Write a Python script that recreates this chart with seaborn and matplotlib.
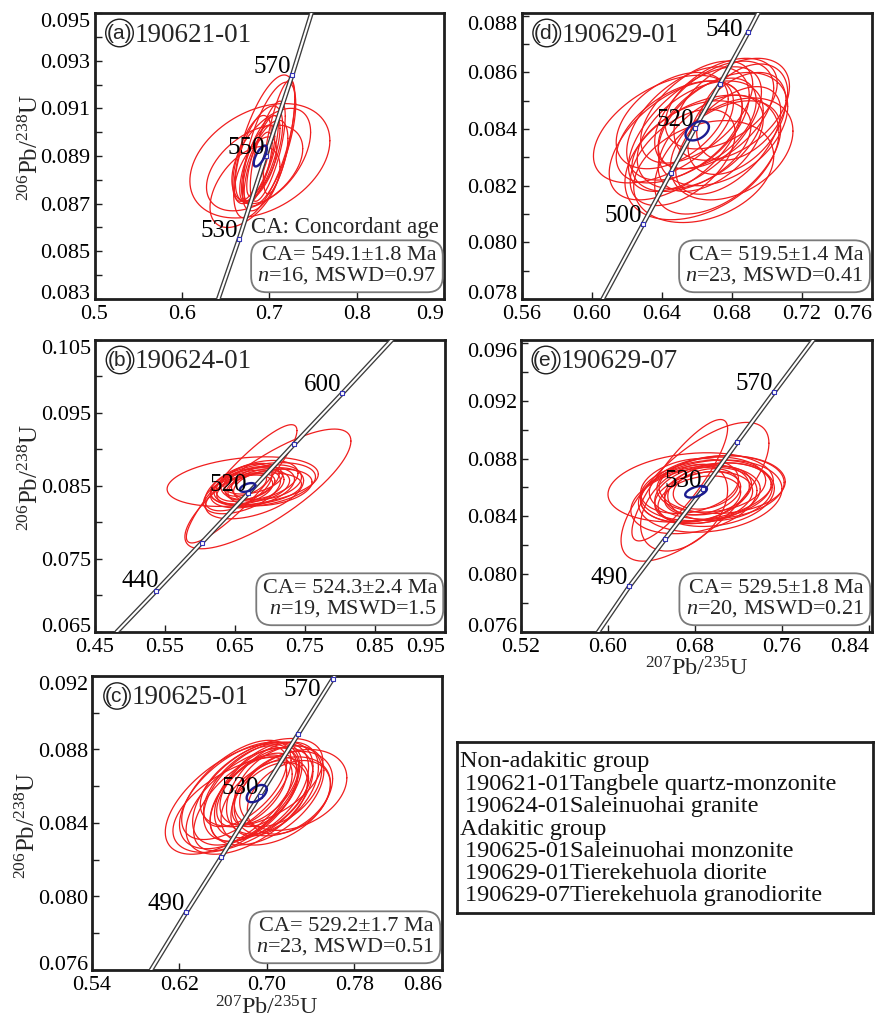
import numpy as np
import pandas as pd
import matplotlib
matplotlib.use("Agg")
import matplotlib.pyplot as plt
from matplotlib.ticker import MultipleLocator, FormatStrFormatter, FixedLocator
import seaborn as sns

# ------------------------------------------------------------------ data
# error ellipses: 207Pb/235U (x) with half-extent, 206Pb/238U (y) with half-extent, error correlation
# (a) 190621-01
A_X    = [0.689, 0.683, 0.672, 0.694, 0.711, 0.700, 0.688, 0.690, 0.686, 0.692, 0.684, 0.695, 0.680, 0.698, 0.687, 0.702]
A_XERR = [0.080, 0.055, 0.040, 0.035, 0.018, 0.030, 0.027, 0.022, 0.020, 0.018, 0.024, 0.026, 0.022, 0.020, 0.016, 0.045]
A_Y    = [0.0888, 0.0885, 0.0877, 0.0894, 0.0898, 0.0895, 0.0891, 0.0889, 0.0887, 0.0890, 0.0884, 0.0886, 0.0889, 0.0892, 0.0885, 0.0890]
A_YERR = [0.0024, 0.0018, 0.0017, 0.0030, 0.0024, 0.0026, 0.0020, 0.0018, 0.0016, 0.0017, 0.0014, 0.0019, 0.0018, 0.0021, 0.0015, 0.0020]
A_RHO  = [0.35, 0.45, 0.50, 0.65, 0.70, 0.65, 0.60, 0.70, 0.70, 0.75, 0.60, 0.60, 0.60, 0.70, 0.70, 0.50]
# (b) 190624-01
B_X    = [0.697, 0.6595, 0.661, 0.690, 0.675, 0.670, 0.680, 0.668, 0.664, 0.685, 0.672, 0.660, 0.695, 0.678, 0.665, 0.688, 0.655, 0.700, 0.676]
B_XERR = [0.1186, 0.079, 0.108, 0.075, 0.060, 0.050, 0.065, 0.045, 0.040, 0.055, 0.035, 0.055, 0.050, 0.070, 0.030, 0.040, 0.048, 0.060, 0.042]
B_Y    = [0.0846, 0.0853, 0.0856, 0.0852, 0.0848, 0.0850, 0.0846, 0.0855, 0.0845, 0.0858, 0.0849, 0.0842, 0.0855, 0.0840, 0.0852, 0.0850, 0.0848, 0.0848, 0.0858]
B_YERR = [0.0082, 0.0081, 0.0034, 0.0030, 0.0028, 0.0025, 0.0022, 0.0026, 0.0020, 0.0027, 0.0018, 0.0030, 0.0024, 0.0035, 0.0016, 0.0021, 0.0032, 0.0025, 0.0019]
B_RHO  = [0.80, 0.90, 0.30, 0.35, 0.40, 0.35, 0.30, 0.45, 0.40, 0.35, 0.45, 0.50, 0.30, 0.50, 0.45, 0.35, 0.55, 0.30, 0.40]
# (c) 190625-01
C_X    = [0.667, 0.724, 0.675, 0.682, 0.690, 0.697, 0.705, 0.688, 0.700, 0.678, 0.710, 0.693, 0.684, 0.715, 0.672, 0.702, 0.695, 0.686, 0.708, 0.680, 0.698, 0.720, 0.676]
C_XERR = [0.060, 0.049, 0.055, 0.050, 0.048, 0.045, 0.042, 0.040, 0.052, 0.045, 0.040, 0.036, 0.058, 0.045, 0.050, 0.035, 0.056, 0.032, 0.050, 0.038, 0.030, 0.038, 0.062]
C_Y    = [0.0853, 0.0858, 0.0855, 0.0856, 0.0857, 0.0858, 0.0859, 0.0854, 0.0855, 0.0851, 0.0860, 0.0860, 0.0852, 0.0856, 0.0858, 0.0853, 0.0862, 0.0857, 0.0852, 0.0860, 0.0856, 0.0854, 0.0850]
C_YERR = [0.0030, 0.0022, 0.0029, 0.0028, 0.0027, 0.0026, 0.0025, 0.0024, 0.0027, 0.0026, 0.0022, 0.0021, 0.0029, 0.0023, 0.0027, 0.0020, 0.0024, 0.0019, 0.0024, 0.0022, 0.0018, 0.0020, 0.0026]
C_RHO  = [0.60, 0.30, 0.55, 0.55, 0.50, 0.50, 0.45, 0.55, 0.50, 0.60, 0.40, 0.50, 0.55, 0.35, 0.60, 0.45, 0.50, 0.55, 0.40, 0.60, 0.50, 0.35, 0.55]
# (d) 190629-01
D_X    = [0.641, 0.680, 0.648, 0.655, 0.662, 0.670, 0.675, 0.660, 0.668, 0.664, 0.652, 0.678, 0.683, 0.657, 0.672, 0.646, 0.686, 0.666, 0.659, 0.674, 0.650, 0.680, 0.663]
D_XERR = [0.040, 0.033, 0.038, 0.035, 0.036, 0.034, 0.037, 0.032, 0.030, 0.040, 0.030, 0.030, 0.028, 0.034, 0.036, 0.032, 0.026, 0.028, 0.038, 0.032, 0.036, 0.035, 0.044]
D_Y    = [0.0840, 0.0847, 0.0836, 0.0842, 0.0838, 0.0845, 0.0840, 0.0846, 0.0835, 0.0825, 0.0830, 0.0836, 0.0842, 0.0834, 0.0830, 0.0843, 0.0846, 0.0842, 0.0840, 0.0849, 0.0839, 0.0833, 0.0830]
D_YERR = [0.0019, 0.0018, 0.0021, 0.0020, 0.0019, 0.0019, 0.0020, 0.0018, 0.0017, 0.0018, 0.0017, 0.0019, 0.0018, 0.0016, 0.0020, 0.0017, 0.0017, 0.0016, 0.0022, 0.0016, 0.0018, 0.0018, 0.0022]
D_RHO  = [0.50, 0.45, 0.55, 0.50, 0.45, 0.50, 0.40, 0.55, 0.50, 0.30, 0.50, 0.55, 0.45, 0.45, 0.50, 0.45, 0.40, 0.50, 0.60, 0.45, 0.50, 0.35, 0.40]
# (e) 190629-07
E_X    = [0.680, 0.666, 0.676, 0.700, 0.690, 0.685, 0.695, 0.688, 0.680, 0.698, 0.692, 0.684, 0.703, 0.675, 0.687, 0.694, 0.679, 0.705, 0.670, 0.690]
E_XERR = [0.068, 0.044, 0.076, 0.062, 0.060, 0.055, 0.050, 0.045, 0.050, 0.055, 0.040, 0.038, 0.048, 0.045, 0.035, 0.066, 0.058, 0.058, 0.040, 0.030]
E_Y    = [0.0857, 0.0865, 0.0860, 0.0860, 0.0858, 0.0855, 0.0862, 0.0853, 0.0856, 0.0855, 0.0858, 0.0852, 0.0857, 0.0861, 0.0856, 0.0854, 0.0851, 0.0862, 0.0846, 0.0859]
E_YERR = [0.0048, 0.0042, 0.0024, 0.0022, 0.0021, 0.0020, 0.0019, 0.0018, 0.0020, 0.0022, 0.0017, 0.0016, 0.0020, 0.0019, 0.0015, 0.0025, 0.0023, 0.0020, 0.0030, 0.0014]
E_RHO  = [0.70, 0.85, 0.20, 0.15, 0.20, 0.20, 0.15, 0.25, 0.25, 0.20, 0.25, 0.30, 0.15, 0.25, 0.30, 0.20, 0.30, 0.10, 0.40, 0.25]

# concordant-age ellipses (a, b, c, d, e)
CA_X    = [0.6895, 0.668, 0.6906, 0.6603, 0.681]
CA_XERR = [0.0075, 0.011, 0.0092, 0.0067, 0.010]
CA_Y    = [0.0890, 0.0848, 0.0856, 0.08394, 0.0857]
CA_YERR = [0.00044, 0.0006, 0.00047, 0.00034, 0.0004]
CA_RHO  = [0.70, 0.50, 0.50, 0.40, 0.50]

# concordia age ticks (Ma) and their positions as drawn
A_AGES = [530, 550, 570];            A_AGE_X = [0.665, 0.6955, 0.726];                  A_AGE_Y = [0.0855, 0.0890, 0.0924]
B_AGES = [440, 480, 520, 560, 600];  B_AGE_X = [0.537, 0.6024, 0.669, 0.7343, 0.8033];  B_AGE_Y = [0.0706, 0.07723, 0.0840, 0.09071, 0.0977]
C_AGES = [490, 510, 530, 550, 570];  C_AGE_X = [0.6261, 0.6581, 0.6932, 0.7283, 0.7599]; C_AGE_Y = [0.07913, 0.08213, 0.08548, 0.08882, 0.09182]
D_AGES = [500, 510, 520, 530, 540];  D_AGE_X = [0.6295, 0.6451, 0.6590, 0.6733, 0.6895]; D_AGE_Y = [0.08066, 0.08245, 0.08404, 0.08559, 0.08742]
E_AGES = [490, 510, 530, 550, 570];  E_AGE_X = [0.6196, 0.6524, 0.6876, 0.7189, 0.7526]; E_AGE_Y = [0.07915, 0.08242, 0.08587, 0.08913, 0.09257]
# concordia curve end points at the frame edges
A_END_X = [0.6415, 0.748];  A_END_Y = [0.083, 0.095]
B_END_X = [0.481, 0.874];   B_END_Y = [0.065, 0.105]
C_END_X = [0.594, 0.7618];  C_END_Y = [0.076, 0.092]
D_END_X = [0.6063, 0.6952]; D_END_Y = [0.078, 0.0881]
E_END_X = [0.591, 0.7888];  E_END_Y = [0.076, 0.0962]
# labelled ages
A_LABELLED = [530, 550, 570]
B_LABELLED = [440, 520, 600]
C_LABELLED = [490, 530, 570]
D_LABELLED = [500, 520, 540]
E_LABELLED = [490, 530, 570]

PANEL_LETTERS = ["a", "b", "c", "d", "e"]
SAMPLE_IDS = ["190621-01", "190624-01", "190625-01", "190629-01", "190629-07"]
CA_AGE = ["549.1", "524.3", "529.2", "519.5", "529.5"]
CA_ERR = ["1.8", "2.4", "1.7", "1.4", "1.8"]
N_SPOTS = [16, 19, 23, 23, 20]
MSWD = ["0.97", "1.5", "0.51", "0.41", "0.21"]

LEGEND_GROUPS = ["Non-adakitic group", "Adakitic group"]
LEGEND_NAMES = ["Tangbele quartz-monzonite", "Saleinuohai granite",
                "Saleinuohai monzonite", "Tierekehuola diorite", "Tierekehuola granodiorite"]

# ------------------------------------------------------------------ style
sns.set_theme(style="white")
plt.rcParams["font.family"] = ["Liberation Serif", "DejaVu Serif"]
plt.rcParams["mathtext.fontset"] = "custom"
plt.rcParams["mathtext.rm"] = "Liberation Serif"
plt.rcParams["mathtext.it"] = "Liberation Serif:italic"
plt.rcParams["mathtext.bf"] = "Liberation Serif:bold"

RED = "#f01e1e"
BLUE = "#1c1c90"
MARK = "#3535b5"
FRAME = "#1e1e1e"

W, H = 877, 1021
def rect(l, r, t, b):
    return [l / W, 1 - b / H, (r - l) / W, (b - t) / H]

ell = {
    "a": (A_X, A_XERR, A_Y, A_YERR, A_RHO),
    "b": (B_X, B_XERR, B_Y, B_YERR, B_RHO),
    "c": (C_X, C_XERR, C_Y, C_YERR, C_RHO),
    "d": (D_X, D_XERR, D_Y, D_YERR, D_RHO),
    "e": (E_X, E_XERR, E_Y, E_YERR, E_RHO),
}
conc = {
    "a": (A_AGES, A_AGE_X, A_AGE_Y, A_END_X, A_END_Y, A_LABELLED),
    "b": (B_AGES, B_AGE_X, B_AGE_Y, B_END_X, B_END_Y, B_LABELLED),
    "c": (C_AGES, C_AGE_X, C_AGE_Y, C_END_X, C_END_Y, C_LABELLED),
    "d": (D_AGES, D_AGE_X, D_AGE_Y, D_END_X, D_END_Y, D_LABELLED),
    "e": (E_AGES, E_AGE_X, E_AGE_Y, E_END_X, E_END_Y, E_LABELLED),
}
# special placement (pixels) of a few age labels near the frame
LABEL_OFFSETS = {("c", 570): (-12, -17), ("d", 540): (-5, -4), ("b", 440): (3, 4)}

layout = {
    # rect, xlim, xticks, xfmt, ylim, yticks, yminor, ylabel coords, has xlabel, has ylabel
    "a": (rect(94.5, 444.5, 13, 299), (0.5, 0.9), np.round(np.arange(0.5, 0.91, 0.1), 3), "%.1f",
          (0.083, 0.095), np.round(np.arange(0.083, 0.0951, 0.002), 4), 0.001, (-0.148, 0.53), False, True),
    "b": (rect(95, 445, 340, 632), (0.45, 0.95), np.round(np.arange(0.45, 0.951, 0.1), 3), "%.2f",
          (0.065, 0.105), np.round(np.arange(0.065, 0.1051, 0.01), 4), 0.005, (-0.148, 0.53), False, True),
    "c": (rect(92, 442, 676, 970), (0.54, 0.86), np.round(np.arange(0.54, 0.861, 0.08), 3), "%.2f",
          (0.076, 0.092), np.round(np.arange(0.076, 0.0921, 0.004), 4), 0.002, (-0.148, 0.49), True, True),
    "d": (rect(521.7, 871.7, 13, 299), (0.56, 0.76), np.round(np.arange(0.56, 0.761, 0.04), 3), "%.2f",
          (0.078, 0.0881), np.round(np.arange(0.078, 0.0881, 0.002), 4), 0.001, None, False, False),
    "e": (rect(521, 872, 340, 632), (0.52, 0.8428), np.round(np.arange(0.52, 0.841, 0.08), 3), "%.2f",
          (0.076, 0.0962), np.round(np.arange(0.076, 0.0961, 0.004), 4), 0.002, None, True, False),
}

def ellipse_xy(cx, sx, cy, sy, rho, n=200):
    t = np.linspace(0, 2 * np.pi, n)
    x = cx + sx * np.cos(t)
    y = cy + sy * (rho * np.cos(t) + np.sqrt(1 - rho ** 2) * np.sin(t))
    return x, y

fig = plt.figure(figsize=(W / 100, H / 100), dpi=100)
fig.patch.set_facecolor("white")

XLAB = r"$^{207}$Pb$/^{235}$U"
YLAB = r"$^{206}$Pb$/^{238}$U"

for i, key in enumerate(PANEL_LETTERS):
    (rc, xlim, xt, xfmt, ylim, yt, ymin, ylc, has_xl, has_yl) = layout[key]
    ax = fig.add_axes(rc)
    ax.set_facecolor("white")

    # red ellipses
    xs, sxs, ys, sys_, rhos = ell[key]
    for cx, sx, cy, sy, r in zip(xs, sxs, ys, sys_, rhos):
        ex, ey = ellipse_xy(cx, sx, cy, sy, r)
        ax.plot(ex, ey, color=RED, lw=0.9, zorder=2)

    # concordia (double line)
    ages, axx, ayy, endx, endy, lab = conc[key]
    cdf = pd.DataFrame({"x": [endx[0]] + axx + [endx[1]], "y": [endy[0]] + ayy + [endy[1]]})
    sns.lineplot(data=cdf, x="x", y="y", sort=False, estimator=None, color="#3c3c3c", lw=3.4, ax=ax, zorder=3)
    sns.lineplot(data=cdf, x="x", y="y", sort=False, estimator=None, color="white", lw=1.5, ax=ax, zorder=3.1)
    mdf = pd.DataFrame({"x": axx, "y": ayy, "age": ages})
    sns.scatterplot(data=mdf, x="x", y="y", marker="s", s=10, facecolor="white", edgecolor=MARK,
                    linewidth=0.8, ax=ax, zorder=4)

    # concordant age ellipse
    ex, ey = ellipse_xy(CA_X[i], CA_XERR[i], CA_Y[i], CA_YERR[i], CA_RHO[i])
    ax.plot(ex, ey, color=BLUE, lw=1.7, zorder=5)

    # age labels
    for a, x, y in zip(ages, axx, ayy):
        if a in lab:
            off = LABEL_OFFSETS.get((key, a), (-1, 2))
            ax.annotate(str(a), xy=(x, y), xytext=off, textcoords="offset pixels",
                        ha="right", va="baseline", fontsize=18, color="black", zorder=6)

    # axes formatting
    ax.set_xlim(*xlim)
    ax.set_ylim(*ylim)
    ax.xaxis.set_major_locator(FixedLocator(xt))
    ax.yaxis.set_major_locator(FixedLocator(yt))
    ax.yaxis.set_minor_locator(MultipleLocator(ymin))
    ax.xaxis.set_major_formatter(FormatStrFormatter(xfmt))
    ax.yaxis.set_major_formatter(FormatStrFormatter("%.3f"))
    ax.tick_params(axis="both", which="both", direction="in", length=5, width=1, color=FRAME,
                   labelsize=16, labelcolor="black", top=False, right=False, left=True, bottom=True)
    ax.tick_params(axis="y", which="both", pad=3)
    ax.tick_params(axis="x", which="both", pad=4)
    ax.set_xlabel("")
    ax.set_ylabel("")
    for sp in ax.spines.values():
        sp.set_visible(True)
        sp.set_linewidth(2.0)
        sp.set_color(FRAME)
    xticks = ax.xaxis.get_major_ticks()
    xticks[-1].label1.set_horizontalalignment("right")
    yticks = ax.yaxis.get_major_ticks()
    yticks[0].label1.set_verticalalignment("baseline")
    yticks[-1].label1.set_verticalalignment("top")

    if has_yl:
        ax.set_ylabel(YLAB, fontsize=18)
        ax.yaxis.set_label_coords(*ylc)
    if has_xl:
        ax.set_xlabel(XLAB, fontsize=17.5)
        ax.xaxis.set_label_coords(0.5, -0.088)

    # panel tag and sample number
    ax.annotate(f"({key})", xy=(0, 1), xycoords="axes fraction", xytext=(25, -20),
                textcoords="offset pixels", ha="center", va="center", fontsize=15,
                family=["Liberation Sans", "DejaVu Sans"], zorder=7,
                bbox=dict(boxstyle="circle,pad=0.05", fc="none", ec=FRAME, lw=1.0))
    ax.annotate(SAMPLE_IDS[i], xy=(0, 1), xycoords="axes fraction", xytext=(40, -19),
                textcoords="offset pixels", ha="left", va="center_baseline", fontsize=19.5, zorder=7)

    # statistics box
    stats = f"CA= {CA_AGE[i]}\u00b1{CA_ERR[i]} Ma\n" + r"$\it{n}$" + f"={N_SPOTS[i]}, MSWD={MSWD[i]}"
    ax.annotate(stats, xy=(1, 0), xycoords="axes fraction", xytext=(-8, 13),
                textcoords="offset pixels", ha="right", va="bottom", multialignment="right",
                fontsize=16, linespacing=1.0, zorder=7,
                bbox=dict(boxstyle="round,pad=0.28,rounding_size=0.7", fc="white", ec="#7a7a7a", lw=1.3))
    if key == "a":
        ax.annotate("CA: Concordant age", xy=(1, 0), xycoords="axes fraction", xytext=(-6, 66),
                    textcoords="offset pixels", ha="right", va="baseline", fontsize=16.5, zorder=7)

# legend box
lax = fig.add_axes(rect(457, 873, 742, 913))
lax.set_xlim(0, 1)
lax.set_ylim(0, 1)
lax.set_xticks([])
lax.set_yticks([])
lax.set_facecolor("white")
for sp in lax.spines.values():
    sp.set_visible(True)
    sp.set_linewidth(2.0)
    sp.set_color(FRAME)

lines = [(LEGEND_GROUPS[0], 460, 767),
         (SAMPLE_IDS[0] + LEGEND_NAMES[0], 465, 790),
         (SAMPLE_IDS[1] + LEGEND_NAMES[1], 465, 812),
         (LEGEND_GROUPS[1], 460, 835),
         (SAMPLE_IDS[2] + LEGEND_NAMES[2], 465, 857),
         (SAMPLE_IDS[3] + LEGEND_NAMES[3], 465, 879),
         (SAMPLE_IDS[4] + LEGEND_NAMES[4], 465, 901)]
for txt, px, py in lines:
    lax.text((px - 457) / (873 - 457), 1 - (py - 742) / (913 - 742), txt, transform=lax.transAxes,
             ha="left", va="baseline", fontsize=17.5, color="#111111")

fig.savefig("out.png", dpi=100, facecolor="white")
